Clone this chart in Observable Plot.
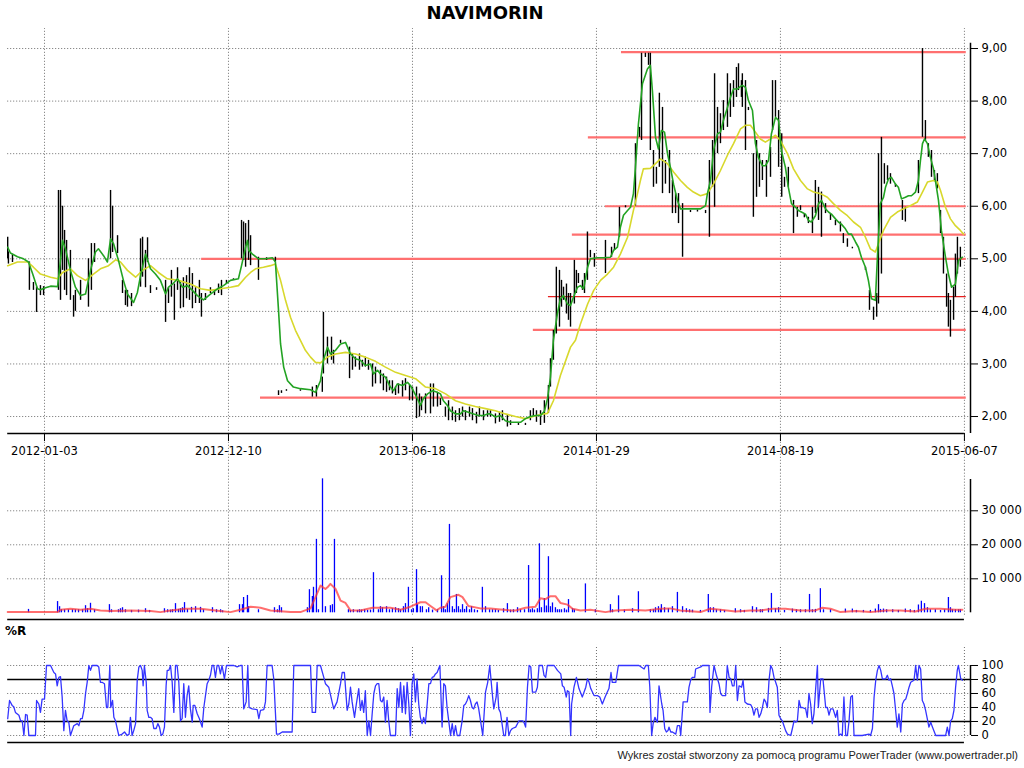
<!DOCTYPE html>
<html><head><meta charset="utf-8">
<script src="https://cdn.jsdelivr.net/npm/d3@7"></script>
<script src="https://cdn.jsdelivr.net/npm/@observablehq/plot@0.6"></script>
<style>
body{margin:0;background:#fff;}
#wrap{position:relative;width:1024px;height:768px;background:#fff;font-family:"DejaVu Sans",sans-serif;overflow:hidden;color:#000}
.abs{position:absolute}
#title{left:0;top:2px;width:970px;text-align:center;font-weight:bold;font-size:18px;line-height:22px}
#wrlab{left:5px;top:624px;font-weight:bold;font-size:12px;line-height:14px}
#cap{right:6px;top:749px;font-size:11px;line-height:13px;font-family:"Liberation Sans",Arial,sans-serif;color:#222}
#p1{left:0;top:20px}
#p2{left:0;top:470px}
#p3{left:0;top:640px}
</style></head>
<body><div id="wrap">
<div id="title" class="abs">NAVIMORIN</div>
<div id="p1" class="abs"></div>
<div id="p2" class="abs"></div>
<div id="wrlab" class="abs">%R</div>
<div id="p3" class="abs"></div>
<div id="cap" class="abs">Wykres został stworzony za pomocą programu PowerTrader (www.powertrader.pl)</div>
</div>
<script>
// ---------- DATA ----------
const tickIdx = [20,120,220,320,420,520];
const tickDates = ["2012-01-03","2012-12-10","2013-06-18","2014-01-29","2014-08-19","2015-06-07"];
const priceTicks = [2,3,4,5,6,7,8,9];
const volTicks = [10000,20000,30000];
const wrTicks = [0,20,40,60,80,100];
const wrDotted = [0,40,60,100];
const wrBands = [20,80];

// support / resistance levels [price, first session]
const levels = [[5.00,105.4],[2.36,137.4],[8.93,333.6],[7.31,315.6],[6.00,324.9],[5.46,306.9],[3.65,285.7]];
const levelsThin = [[4.28,293.9]];

// session high/low bars [session, high, low]
const priceBars = [
[0,5.41,5.0],[0.4,5.13,4.90],[2.6,5.08,4.93],[11.8,4.94,4.40],[14,4.55,4.40],[15.7,4.46,3.98],[17.8,4.49,4.30],[19.5,4.47,4.30],
[27.6,6.30,4.40],[28.7,6.30,4.21],[29.8,6.00,4.78],[30.9,5.54,4.40],[32,5.35,4.30],[34.1,5.16,4.21],[35.8,4.30,3.89],[36.8,4.40,4.0],
[39.6,4.59,4.21],[43.9,5.0,4.08],[45.5,5.29,4.40],[47.2,5.29,4.93],[55.9,6.30,5.0],[57,6.0,5.12],[59.7,5.44,5.10],[62.4,4.59,4.34],
[64,4.40,4.11],[65.1,4.40,4.08],[67.3,4.34,4.09],[72.2,5.38,4.46],[73.3,5.41,4.65],[74.9,5.16,4.45],[76,5.40,4.93],[77.6,4.49,4.34],
[80.9,4.45,4.40],[85.8,4.59,3.79],[87.4,4.45,4.15],[89,4.78,4.27],[90.6,4.52,3.83],[92.3,4.83,4.40],[93.9,4.55,4.05],[95.5,4.64,4.07],
[97.2,4.68,4.24],[98.8,4.83,4.21],[100.4,4.72,4.05],[102.1,4.45,4.15],[104.2,4.59,4.15],[105.3,4.34,3.89],[107.5,4.34,4.21],[110.2,4.45,4.34],
[112.4,4.40,4.30],[114.6,4.52,4.34],[116.2,4.59,4.30],[118.9,4.59,4.52],[122.7,4.62,4.59],[127.1,5.73,5.0],[128.2,5.70,4.97],[129.3,5.67,4.84],
[130.9,5.73,4.97],[132,5.44,4.87],[136.3,5.03,4.59],[140.7,5.02,4.97],[145.5,5.03,4.94],[147.2,2.49,2.40],[148.8,2.49,2.44],[151.5,2.51,2.48],
[159.1,2.51,2.48],[165.6,2.56,2.37],[167.8,2.59,2.37],[171,2.75,2.46],[171.6,3.98,2.81],[173.8,3.51,3.00],[176,3.51,3.07],[177.1,3.26,3.00],
[180.9,3.45,3.39],[185.8,3.32,2.72],[187.4,3.19,2.88],[189,3.13,2.94],[191.2,3.19,2.88],[192.8,3.07,2.94],[194.4,3.13,2.94],[196.1,3.07,2.88],
[198.3,3.00,2.56],[199.9,2.94,2.62],[202.6,2.88,2.62],[204.2,2.81,2.49],[205.9,2.75,2.46],[207.5,2.68,2.49],[209.1,2.68,2.43],[210.8,2.56,2.40],
[212.4,2.62,2.43],[214.6,2.68,2.37],[216.2,2.72,2.49],[218.4,2.59,2.30],[220,2.56,2.30],[222.2,2.56,1.96],[223.8,2.43,1.99],[224.9,2.37,2.11],
[227.1,2.43,2.05],[229.8,2.62,2.05],[231.4,2.62,2.18],[233.6,2.46,2.18],[235.2,2.34,2.21],[237.9,2.18,1.99],[239.6,2.30,1.92],[241.7,2.18,1.92],
[243.4,2.11,1.89],[245.5,2.15,1.92],[247.2,2.18,1.99],[248.8,2.11,1.92],[251,2.18,1.99],[252.6,2.15,1.92],[254.8,2.08,1.86],[256.4,2.18,1.99],
[258.6,2.11,1.92],[260.8,2.11,1.99],[262.4,2.11,1.99],[265.1,2.05,1.86],[267.3,2.08,1.89],[268.9,2.11,1.92],[271.6,2.02,1.80],[273.3,1.92,1.83],
[277.6,1.87,1.83],[281.4,1.87,1.83],[284.1,2.11,1.92],[285.7,2.15,1.99],[287.4,2.11,1.89],[289.6,2.11,1.83],[291.7,2.30,1.87],[293.9,2.59,2.06],
[295,3.10,2.56],[296.6,3.64,3.07],[298.2,4.84,3.57],[299.9,4.78,3.70],[301,4.59,4.08],[302.1,4.46,4.21],[303.7,4.52,3.95],[304.8,4.34,3.83],
[305.9,4.34,3.70],[308,4.97,4.14],[309.1,4.78,4.34],[310.2,4.72,4.53],[312.4,4.59,4.40],[313.5,4.72,4.34],[315.1,5.51,4.59],[316.7,5.16,5.02],
[318.9,5.10,4.84],[324.9,5.35,4.72],[328.2,5.22,5.03],[329.8,5.29,5.16],[332.5,5.98,5.41],[335.8,6.01,5.97],[341.2,7.19,6.0],[343.4,7.50,7.31],
[344.5,8.91,7.25],[346.6,8.91,8.83],[348.3,8.91,8.68],[349.3,8.91,7.06],[351,7.06,6.36],[352.6,6.74,6.42],[354.2,8.15,6.74],[355.9,7.88,6.24],
[357.5,6.87,6.42],[359.7,7.06,6.24],[361.3,6.49,5.86],[363,6.24,5.86],[364.6,6.24,5.67],[366.8,6.05,5.03],[371.1,5.92,5.88],[374.9,5.93,5.89],
[379.3,5.92,5.86],[381.4,6.87,5.41],[383.1,7.25,6.36],[384.2,8.52,5.98],[385.8,7.88,7.00],[387.4,7.76,7.19],[389,8.01,7.44],[391.2,8.52,7.50],
[392.8,8.33,7.69],[394.5,8.39,7.88],[396.1,8.64,8.07],[397.2,8.71,8.20],[398.8,8.39,8.07],[399.3,8.52,7.88],[401,8.39,7.06],[402.6,7.88,7.82],
[405.3,7.00,5.79],[407,7.25,6.17],[408.6,7.00,6.36],[410.2,6.87,6.49],[412.4,6.87,6.17],[414.6,7.12,6.55],[415.7,8.39,7.44],[417.3,8.39,7.69],
[419,7.82,6.74],[420.7,7.38,6.17],[422.2,6.55,6.36],[424.3,6.74,6.36],[427.1,6.11,5.48],[429.2,5.98,5.79],[430.9,6.01,5.92],[433,5.86,5.78],
[435.2,5.79,5.67],[437.4,5.98,5.48],[439,6.49,5.86],[440.7,6.36,5.73],[442.3,6.27,5.41],[444.5,6.05,5.86],[447.2,5.85,5.73],[449.9,5.73,5.63],
[452.6,5.70,5.51],[454.2,5.48,5.29],[456.4,5.38,5.22],[459.1,5.22,5.19],[466.2,4.84,4.78],[468.4,4.40,4.02],[470.6,4.08,3.83],[472.3,4.34,3.89],
[473.3,7.00,4.14],[474.9,7.31,4.71],[476.5,6.81,6.42],[478.2,6.77,6.49],[479.8,6.62,6.42],[482.5,6.42,6.36],[486.3,6.11,5.73],[487.9,5.98,5.70],
[495,6.87,6.24],[497.2,9.00,7.31],[498.8,7.63,7.25],[500.4,7.19,6.93],[502.1,7.06,6.55],[503.7,6.68,6.49],[505.3,6.62,6.33],[507,5.92,5.48],
[508.6,5.41,4.71],[510.3,4.71,4.08],[511.3,4.34,3.70],[512.4,4.21,3.51],[514.1,4.46,3.83],[515.1,5.09,4.27],[516.2,5.41,4.71],[517.8,5.22,4.84]
];

// short moving average (green) [session, price]
const greenMA = [
[0,5.22],[1.5,5.11],[5.3,5.04],[8.6,5.00],[11.3,4.94],[13.5,4.72],[16.2,4.43],[17.8,4.41],[20.5,4.45],[23.3,4.48],[27.1,4.47],[28.7,4.97],
[29.8,5.35],[31.4,5.19],[34.1,4.78],[36.8,4.46],[39.6,4.30],[42.3,4.33],[45,4.78],[47.7,5.13],[49.3,5.19],[52.1,5.06],[54.2,4.94],[55.9,5.38],
[57.5,5.29],[60.2,4.97],[62.9,4.59],[65.1,4.33],[68.4,4.17],[70.5,4.36],[72.2,4.68],[74.9,5.09],[77.6,4.81],[80.3,4.71],[83,4.59],[85.8,4.33],
[87.4,4.46],[89.6,4.52],[92.3,4.62],[95,4.46],[97.7,4.49],[100.4,4.40],[103.1,4.30],[106.4,4.22],[110.2,4.33],[114,4.43],[117.3,4.49],[121.1,4.59],
[125.4,4.62],[127.1,4.87],[129.3,5.22],[130.3,5.35],[131,5.16],[133,5.09],[136.3,5.00],[140.1,5.00],[143.9,5.02],[145.5,4.94],[147.2,4.02],[148.3,3.38],
[150,2.94],[152.1,2.68],[155.3,2.56],[159.1,2.53],[164.6,2.51],[167.3,2.46],[170,2.68],[171.6,3.07],[173.8,3.32],[175.4,3.19],[178.2,3.26],[180.9,3.38],
[183.6,3.41],[186.3,3.19],[189,3.10],[191.7,3.07],[194.4,2.97],[197.2,3.00],[198.8,2.81],[201,2.88],[202.6,2.81],[205.3,2.75],[208,2.56],[209.7,2.49],
[211.8,2.62],[214.6,2.59],[217.3,2.65],[218.9,2.59],[220.5,2.49],[222.7,2.34],[224.3,2.21],[225.9,2.34],[228.2,2.43],[230.9,2.49],[233.6,2.46],[235.2,2.43],
[236.8,2.30],[239,2.21],[240.6,2.11],[243.4,2.05],[246.1,2.05],[247.7,2.11],[250.4,2.08],[253.2,2.05],[255.9,2.02],[258.6,2.02],[260.8,2.05],[262.4,2.05],
[265.1,1.99],[267.8,2.02],[270.5,1.92],[273.3,1.89],[276,1.89],[278.7,1.89],[281.4,1.96],[284.1,2.00],[286.8,2.02],[289.6,2.02],[291.7,2.10],[293.4,2.34],
[295,2.75],[296.6,3.45],[298.8,3.96],[300.4,4.24],[302.1,4.30],[304.2,4.14],[305.9,4.11],[307.5,4.27],[309.7,4.46],[311.3,4.49],[313,4.43],[315.2,4.84],
[316.7,5.00],[320.5,5.02],[323.8,5.02],[327.6,5.03],[329.3,5.16],[331.4,5.22],[333,5.60],[334.7,5.83],[336.9,5.92],[338.5,5.98],[340.1,6.24],[341.2,6.74],
[342.8,7.56],[345,8.33],[347.7,8.61],[349.3,8.68],[350.4,8.20],[352.1,7.31],[353.7,7.09],[355.3,7.44],[357,7.41],[358.6,7.00],[360.2,6.74],[361.9,6.42],
[364,6.11],[365.7,5.95],[371.1,5.95],[376.5,5.95],[379.3,6.01],[380.3,6.24],[382,6.49],[383.6,7.06],[385.8,7.38],[387.4,7.41],[389,7.63],[391.2,7.88],
[392.8,8.07],[394.5,8.23],[396.6,8.23],[398.3,8.28],[399.3,8.30],[401,8.26],[402.6,8.01],[404.8,7.82],[406.4,7.19],[408,6.93],[410.2,6.77],[411.8,6.77],
[413.5,6.87],[415.1,7.38],[417.3,7.69],[419,7.63],[420.5,7.06],[422.7,6.74],[424.3,6.36],[426,6.05],[428.2,5.98],[429.8,5.92],[431.4,5.89],[433.6,5.85],
[435.2,5.73],[436.8,5.70],[439,5.82],[440.7,6.05],[442.3,6.11],[444.5,5.95],[446.1,5.89],[447.7,5.85],[449.9,5.76],[451.5,5.70],[453.1,5.66],[455.3,5.57],
[457,5.47],[458.6,5.47],[460.8,5.32],[462.4,5.22],[464,5.03],[466.2,4.84],[467.8,4.59],[469.5,4.24],[471.6,4.21],[472.7,5.03],[474.3,6.05],[476,6.17],
[477.1,6.36],[478.7,6.52],[480.3,6.55],[482.5,6.42],[484.1,6.36],[485.8,6.14],[487.9,6.17],[489.6,6.20],[491.2,6.20],[493.4,6.27],[495,6.49],[496.1,6.87],
[497.2,7.19],[498.3,7.28],[499.9,7.19],[501.5,6.93],[503.2,6.71],[504.2,6.49],[505.9,6.11],[507.5,5.54],[509.7,5.03],[511.3,4.71],[513,4.46],[515.1,4.52],
[516.8,4.97],[518.9,5.03]
];

// long moving average (yellow) [session, price]
const yellowMA = [
[0,4.87],[5.3,4.94],[10.8,4.94],[14,4.84],[17.8,4.71],[23.3,4.65],[27.1,4.62],[29.8,4.74],[34.1,4.81],[37.9,4.68],[42.3,4.59],[46.6,4.71],
[50.4,4.81],[54.8,4.87],[58.6,4.98],[61.3,4.94],[65.1,4.78],[69.5,4.65],[73.3,4.78],[77.6,4.87],[81.9,4.74],[86.8,4.62],[92.8,4.59],[99.3,4.52],
[104.8,4.43],[110.2,4.40],[115.7,4.43],[121.1,4.46],[125.4,4.49],[129.3,4.65],[132,4.74],[134.7,4.81],[139,4.84],[142.8,4.87],[145.5,4.90],[148.3,4.59],
[151,4.21],[153.7,3.89],[156.4,3.64],[159.1,3.45],[161.8,3.26],[164.6,3.13],[167.3,3.03],[170,3.02],[173.8,3.13],[178.2,3.19],[183.6,3.22],[189,3.19],
[194.4,3.13],[199.9,3.05],[205.3,2.94],[210.8,2.84],[216.2,2.78],[221.7,2.72],[227.1,2.56],[232.5,2.53],[238,2.43],[243.4,2.30],[248.8,2.24],[254.2,2.19],
[259.7,2.15],[265.1,2.11],[270.5,2.05],[276,2.00],[281.4,1.96],[285.7,2.00],[289.6,2.04],[293.4,2.06],[296.6,2.30],[300.4,2.78],[305.9,3.32],[308.6,3.45],
[311.3,3.76],[315.2,4.14],[318.5,4.40],[322.2,4.59],[326,4.71],[329.3,4.84],[333,5.09],[336.9,5.41],[340.1,5.92],[342.3,6.24],[343.9,6.49],[345.5,6.71],
[349.3,6.72],[352.1,6.81],[354.8,6.90],[358.6,6.81],[361.9,6.65],[365.7,6.49],[369.4,6.36],[372.7,6.27],[376.5,6.20],[380.3,6.24],[383.6,6.42],[387.4,6.68],
[391.2,6.97],[394.5,7.19],[398.3,7.47],[401,7.54],[403.7,7.54],[406.4,7.41],[409.1,7.28],[411.8,7.22],[414.5,7.28],[417.3,7.35],[420,7.25],[423.8,7.00],
[427.1,6.71],[430.9,6.49],[434.7,6.33],[438,6.27],[441.7,6.24],[445.5,6.17],[448.8,6.05],[452.6,5.92],[456.4,5.82],[459.7,5.70],[463.5,5.60],[466.2,5.41],
[468.9,5.19],[471.6,5.13],[473.3,5.29],[476,5.54],[479.8,5.79],[483.5,5.89],[486.8,5.95],[490.6,6.01],[494.4,6.08],[497.2,6.27],[499.9,6.46],[503.2,6.49],
[505.3,6.46],[507,6.30],[509.7,5.98],[512.4,5.76],[515.1,5.63],[517.8,5.54],[519.5,5.47]
];

// volume per session [session, volume]
const volBars = [
[11.3,1000],[27.1,3300],[28.2,1800],[29.2,900],[30.9,900],[33,900],[35.2,900],[36.8,900],[38.5,900],[40.7,900],[42.3,2100],[43.4,1200],
[45,2800],[47.2,900],[55.3,2400],[56.4,900],[60.2,900],[61.3,1200],[62.4,1500],[64,900],[67.3,700],[71.1,800],[74.9,1200],[77.1,700],
[85.2,1200],[86.9,900],[88.5,800],[89.6,900],[91.2,2700],[92.8,1000],[93.9,1200],[95,1500],[96.1,3000],[97.7,1000],[99.9,1600],[102.1,1800],
[104.8,1600],[106.4,900],[111.3,1500],[113.5,900],[115.7,900],[116.8,600],[126,2400],[127.6,2400],[128.2,4500],[130.3,5100],[130.9,1800],[136.3,900],
[145,1500],[146.6,900],[147.7,2100],[148.8,1500],[162.9,1500],[164,6800],[165.6,4800],[166.2,7500],[167.8,21600],[168.9,900],[171.1,39400],[172.7,1800],
[175.4,2100],[176.5,2400],[177.6,21600],[185.2,900],[186.3,700],[187.9,900],[190.1,700],[191.2,900],[192.3,800],[194,900],[195.6,700],[197.2,800],
[198.8,11800],[201.5,900],[202.6,1800],[203.7,1500],[205.9,1800],[207.5,900],[209.1,1200],[210.8,1500],[212.4,1200],[213.5,900],[215.1,1800],[216.2,2700],
[217.8,7500],[219.5,900],[220.5,1200],[222.2,12700],[222.7,2400],[224.3,1800],[225.4,1800],[227.6,900],[228.8,1500],[230.9,800],[233.6,900],[235.8,10900],
[236.9,1800],[237.9,900],[239,2700],[240.1,26000],[241.7,1800],[242.8,1000],[243.9,5400],[245,1800],[246.1,900],[247.2,2400],[248.3,1000],[249.4,1800],
[251,900],[252.1,1800],[253.7,900],[255.3,700],[258,7500],[259.7,1800],[261.9,900],[263.5,900],[265.1,900],[266.7,700],[269.5,1200],[271.6,2700],
[273.3,800],[274.9,900],[277.1,1500],[278.7,900],[280.9,900],[283.1,13900],[284.1,900],[285.2,1200],[286.3,800],[287.9,1200],[289,20300],[290.1,1500],
[291.7,4200],[292.8,2000],[293.9,16500],[295,1800],[296.1,2900],[297.7,1500],[298.8,900],[299.9,900],[301,900],[302.6,1200],[303.7,800],[304.8,3900],
[307,1200],[308,900],[314,8500],[319.4,900],[327.6,2400],[328.7,900],[332,5000],[335.2,800],[339.6,1200],[342.8,6200],[349.3,900],[351,900],
[352.1,1500],[353.7,1800],[354.8,1000],[355.3,2400],[357,1500],[359.1,1200],[361.3,1800],[364,6000],[366.8,1800],[368.9,1200],[370.6,900],[372.2,800],
[376.5,700],[380.8,5400],[381.9,1500],[383.6,1500],[385.2,900],[387.4,900],[389.6,700],[395.5,1200],[398.3,900],[400.4,700],[404.8,1800],[407,1500],
[409.1,900],[410.2,900],[413.5,1300],[415.1,5700],[417.3,1200],[419,1500],[422.2,700],[426.5,1100],[428.7,900],[430.9,900],[433.6,900],[435.8,5400],
[437.4,900],[439,1000],[441.7,7100],[443.4,900],[447.2,900],[455.3,1100],[459.1,1100],[461.3,700],[465.1,700],[468.9,700],[471.6,1100],[473.3,2400],
[474.4,1000],[476,1100],[477.7,900],[481,900],[484.1,700],[487.9,1100],[490.6,900],[492.8,700],[495,2300],[496.6,3400],[498.3,2700],[499.9,1500],
[501.5,900],[504.2,900],[507,700],[509.2,900],[511.3,4500],[512.4,1500],[513.5,900],[515.1,900],[516.8,900],[517.8,900]
];

// volume moving average (red) [session, volume]
const volMA = [
[0,200],[27.1,200],[28.7,900],[34.1,1200],[39.6,900],[45,1200],[50.4,700],[55.9,500],[66.7,700],[77.6,500],[83,200],[88.5,700],
[96.6,1200],[104.8,1200],[112.9,700],[121.1,200],[126.5,900],[132,1800],[137.4,1500],[142.8,700],[153.7,200],[159.1,200],[164.6,1300],[167.3,4600],
[170,8000],[172.7,7000],[173.8,7500],[175.4,8500],[178.2,7000],[180.9,3600],[183.6,2900],[186.3,700],[191.7,700],[198.3,1500],[208,1500],[213.5,900],
[218.9,1800],[224.3,3100],[227.1,3100],[229.8,2000],[233.1,700],[235.2,1500],[237.9,1800],[240.6,4600],[245,5300],[247.2,4600],[250.4,2000],[256.9,1300],
[262.4,1300],[267.8,1000],[273.3,700],[276,700],[281.4,1500],[286.8,1800],[289.6,4300],[292.3,4000],[295,4900],[297.7,4900],[300.4,2900],[304.3,2400],
[307,1200],[311.3,700],[316.7,900],[324.9,200],[330.3,700],[338.5,900],[346.6,700],[354.8,1200],[360.2,1300],[365.7,700],[376.5,200],[381.9,1200],
[387.4,900],[395.5,400],[403.7,700],[409.1,700],[415.7,1200],[422.7,1200],[430.9,700],[439,700],[442.8,1500],[447.2,1200],[452.6,200],[460.8,500],
[468.9,200],[477.1,700],[485.2,700],[493.4,400],[498.8,1200],[507,1200],[515.1,900],[518.9,900]
];

// Williams %R [session, value]
const willR = [
[0,24],[1,50],[2.4,43],[3.3,41],[4.2,33],[6.1,29],[7,21],[7.9,21],[8.8,0],[9.7,30],[10.6,29],[11.5,0],[13.3,0],[15.1,0],[15.7,50],[16.9,45],
[17.8,33],[18.7,52],[20,52],[21.1,100],[23.3,100],[25.1,90],[26,88],[26.9,71],[27.8,83],[28.7,84],[29.6,55],[30.5,7],[31.4,36],[32.3,21],[33.2,19],
[34.1,0],[35.9,14],[37.8,17],[38.7,14],[39.6,24],[40.5,24],[41.4,36],[42.3,60],[43.2,76],[44.1,100],[45,93],[45.9,100],[48.6,100],[49.5,98],[50.4,76],
[51.3,76],[52.6,74],[53.7,40],[54.4,40],[55.1,76],[55.5,100],[56,40],[57,50],[57.7,26],[58.6,21],[59.5,10],[60.4,0],[62.2,2],[63.5,5],[64.9,0],
[66,2],[66.7,26],[67.6,0],[68.5,7],[69.5,17],[70.4,79],[71.3,98],[72.2,100],[73.1,93],[73.6,71],[74.3,100],[75.3,76],[75.8,36],[76.7,26],[77.6,26],
[78.5,24],[79.4,10],[80.7,10],[81.6,17],[82.5,12],[83.4,0],[84.3,2],[85.2,12],[86.1,71],[86.7,93],[87.6,93],[88.5,100],[89.4,76],[90.3,33],[91.2,100],
[92.1,100],[93,76],[93.9,21],[94.8,24],[95.7,74],[96.6,26],[97.5,57],[98.4,71],[99.3,38],[100.3,19],[100.8,43],[101.7,43],[103,31],[104.2,24],[105.7,12],
[106.6,40],[108.4,74],[109.3,79],[110.2,86],[111.1,100],[112,100],[112.9,83],[113.8,100],[114.7,100],[115.6,88],[116.5,100],[117.8,81],[118.9,100],[122.9,100],
[124.7,98],[126.5,100],[127.4,100],[128.3,38],[129.6,48],[130.5,100],[131.2,40],[132.9,38],[135.6,37],[136.5,24],[137.4,36],[139.2,37],[140.1,48],[141,100],
[143.7,100],[144.6,81],[146.1,2],[147.4,2],[149.2,5],[151.9,5],[154.6,5],[155.5,100],[159.1,100],[164.6,100],[165.5,33],[167.3,33],[168.2,100],[170,100],
[171.8,83],[172.7,74],[174.5,69],[176.3,48],[177.2,38],[179,48],[180.9,74],[181.8,90],[183,90],[184.5,36],[185.4,45],[186.3,69],[187.2,48],[188.5,26],
[189.5,45],[190.8,67],[191.7,36],[192.6,50],[193.5,33],[194.4,64],[195.4,0],[196.3,21],[197.2,0],[198.1,31],[199,60],[199.9,71],[200.8,74],[201.7,74],
[202.6,50],[203.5,48],[204.4,55],[205.3,19],[206.2,50],[207.1,21],[208,0],[210.8,0],[211.7,67],[212.6,40],[213.5,76],[214.4,33],[215.3,71],[216.2,31],
[217.1,76],[218,45],[218.9,0],[219.8,74],[220.7,88],[221.6,48],[222.5,81],[223.4,45],[224.3,26],[225.2,17],[226.1,26],[227,17],[228,45],[228.9,74],
[229.8,74],[230.7,83],[231.6,84],[232.5,88],[233.4,90],[234.9,100],[236.1,12],[237,74],[237.9,71],[238.8,40],[239.7,21],[240.7,0],[241.6,17],[242.5,0],
[243.4,14],[244.3,0],[245.7,0],[247,21],[247.9,43],[248.8,45],[249.7,50],[250.6,57],[251.5,50],[252.4,40],[253.3,38],[254.2,45],[255.1,48],[256,38],
[257,21],[258.2,0],[259.7,62],[260.9,76],[262,100],[263.3,62],[264.2,38],[265.5,55],[266,76],[266.9,38],[267.8,33],[269.6,0],[270.5,0],[271.4,26],
[272.4,0],[273.3,7],[274.3,10],[276.1,12],[277.9,21],[279.7,21],[280.6,19],[281.5,12],[282.5,69],[283.4,100],[284.3,98],[285.2,62],[287,62],[287.9,69],
[288.8,100],[290.6,100],[291.5,86],[292.4,83],[293.3,100],[297,100],[298.8,93],[300.6,88],[301.5,71],[302.4,69],[303.6,55],[304.2,64],[305.1,62],[306,0],
[306.5,45],[307.8,69],[309.1,83],[310.5,67],[312.3,55],[314.2,69],[315.1,81],[316,76],[316.9,67],[318.7,57],[320.5,57],[321.8,55],[323.2,45],[324.7,55],
[325.9,62],[326.8,67],[327.9,90],[328.6,76],[330.5,76],[331.9,100],[334.1,100],[339.5,100],[343.1,100],[345.9,95],[346.8,100],[348.2,100],[349,69],[350,0],
[350.8,17],[351.8,26],[352.6,21],[353.1,19],[354,71],[355.5,45],[356.2,36],[357.1,10],[358,5],[358.9,7],[359.4,12],[360.4,5],[361.3,5],[363.1,2],
[364,14],[365.2,14],[365.8,0],[367.1,48],[369.4,48],[370.3,69],[371.2,79],[372.1,83],[373.4,83],[373.9,95],[376.7,98],[377.6,100],[381.2,100],[381.7,33],
[382.6,69],[383.9,100],[385.2,86],[386.6,74],[387.5,60],[388.4,57],[390.2,57],[391.1,100],[392.1,83],[393,81],[393.9,71],[394.8,71],[395.7,100],[396.6,50],
[397.5,71],[398.9,69],[399.7,79],[400.7,48],[402,45],[403.8,44],[404.7,40],[405.6,29],[406.5,38],[407.5,38],[408.4,26],[409.3,31],[410.2,40],[411.1,52],
[412,48],[412.9,40],[413.8,79],[414.7,100],[415.6,95],[416.5,83],[417.4,76],[418.3,69],[419.2,29],[420.1,24],[421,21],[421.9,14],[422.8,7],[423.8,2],
[425.6,0],[426.5,10],[427.4,21],[428.3,19],[429.2,21],[430.1,50],[431,40],[431.9,40],[433.7,38],[434.6,26],[435.5,60],[436.4,45],[437.3,17],[438.2,31],
[439.2,69],[440.1,100],[440.6,40],[441.9,81],[443.1,81],[444.6,40],[445.5,40],[446.4,29],[447.3,38],[448.6,38],[450,26],[450.9,36],[451.8,0],[452.7,2],
[453.6,0],[454.5,55],[455.5,0],[456.4,0],[457.3,21],[458.2,55],[459.1,57],[460,0],[461.8,0],[464.5,0],[468.1,2],[469,0],[470,10],[470.9,55],
[471.8,79],[472.7,93],[473.6,100],[474.5,93],[475.4,81],[477.2,81],[478.1,86],[479,79],[479.9,81],[480.8,71],[481.7,60],[482.6,36],[483.5,12],[484.4,31],
[485.4,5],[486.3,45],[487.2,50],[488.1,52],[489,60],[489.9,69],[490.8,76],[492.6,79],[493.5,100],[494.4,79],[495.3,100],[496.2,95],[497.1,50],[498,45],
[498.9,36],[499.8,24],[500.7,12],[501.7,19],[502.6,12],[504.4,0],[509.8,0],[510.7,12],[511.6,0],[512.5,21],[513.4,24],[514.3,36],[515.2,69],[516.1,93],
[516.7,100],[517.4,90],[518,81],[518.9,79]
];

// ---------- LAYOUT ----------
const W = 1024, ML = 7.2, MR = 54;
const xEnd = 523.3;          // session position of the right axis
const lastTick = tickIdx[tickIdx.length - 1];
const priceDom = [1.677, 9.381];
const volDom = [-1970, 41850];
const wrDom = [-10, 135.7];
const dotted = {stroke: "#6e6e6e", strokeDasharray: "1,2", strokeWidth: 1};
const style = {fontFamily: '"DejaVu Sans", sans-serif', fontSize: "11.5px", color: "#000", background: "transparent", overflow: "visible"};
const fx = d => d[0], fy = d => d[1];
const comma2 = d => d.toFixed(2).replace(".", ",");
const spaceThousands = d => d3.format(",")(d).replace(/,/g, " ");

const price = Plot.plot({
  width: W, height: 450, marginLeft: ML, marginRight: MR, marginTop: 8, marginBottom: 37,
  style,
  x: {domain: [0, xEnd], label: null},
  y: {domain: priceDom, label: null},
  marks: [
    Plot.ruleY(priceTicks, dotted),
    Plot.ruleX(tickIdx, {y1: priceDom[0] - 0.7, y2: priceDom[1], ...dotted}),
    Plot.ruleY(levels, {y: d => d[0], x1: d => d[1], x2: lastTick + 1, stroke: "#ff7070", strokeWidth: 2.2}),
    Plot.ruleY(levelsThin, {y: d => d[0], x1: d => d[1], x2: lastTick + 1, stroke: "#e52020", strokeWidth: 1.2}),
    Plot.ruleX(priceBars, {x: d => d[0], y1: d => d[2], y2: d => d[1], stroke: "#000", strokeWidth: 1.4}),
    Plot.line(yellowMA, {x: fx, y: fy, stroke: "#d8d82c", strokeWidth: 1.6}),
    Plot.line(greenMA, {x: fx, y: fy, stroke: "#23a323", strokeWidth: 1.6}),
    Plot.ruleY([priceDom[0]], {x1: 0, x2: lastTick, stroke: "#000", strokeWidth: 1.5}),
    Plot.ruleX([xEnd], {y1: priceDom[0], y2: 9.1, stroke: "#000", strokeWidth: 1.5}),
    Plot.axisX({ticks: tickIdx, tickFormat: d => tickDates[tickIdx.indexOf(d)], tickSize: 8, tickPadding: 5, label: null}),
    Plot.axisY({anchor: "right", ticks: priceTicks, tickFormat: comma2, tickSize: 7, tickPadding: 4, label: null})
  ]
});
document.getElementById("p1").append(price);

const vol = Plot.plot({
  width: W, height: 155, marginLeft: ML, marginRight: MR, marginTop: 0, marginBottom: 6,
  style,
  x: {domain: [0, xEnd], axis: null},
  y: {domain: volDom, label: null},
  marks: [
    Plot.ruleY(volTicks, dotted),
    Plot.ruleX(tickIdx, {y1: -700, y2: volDom[1], ...dotted}),
    Plot.ruleX(volBars, {x: fx, y1: 0, y2: fy, stroke: "#0000ff", strokeWidth: 1.3}),
    Plot.line(volMA, {x: fx, y: fy, stroke: "#ff3030", strokeWidth: 2, strokeOpacity: 0.7}),
    Plot.ruleY([volDom[0]], {x1: 0, x2: lastTick, stroke: "#000", strokeWidth: 1.5}),
    Plot.ruleX([xEnd], {y1: 0, y2: 39200, stroke: "#000", strokeWidth: 1.5}),
    Plot.axisY({anchor: "right", ticks: volTicks, tickFormat: spaceThousands, tickSize: 7, tickPadding: 4, label: null})
  ]
});
document.getElementById("p2").append(vol);

const wr = Plot.plot({
  width: W, height: 105, marginLeft: ML, marginRight: MR, marginTop: 0, marginBottom: 3,
  style,
  x: {domain: [0, xEnd], axis: null},
  y: {domain: wrDom, label: null},
  marks: [
    Plot.ruleY(wrDotted, dotted),
    Plot.ruleX(tickIdx, {y1: -4.3, y2: 128.6, ...dotted}),
    Plot.ruleY(wrBands, {stroke: "#000", strokeWidth: 1.5}),
    Plot.line(willR, {x: fx, y: fy, stroke: "#3434ff", strokeWidth: 1.3}),
    Plot.ruleY([wrDom[0]], {x1: 0, x2: lastTick, stroke: "#000", strokeWidth: 1.5}),
    Plot.ruleX([xEnd], {y1: 0, y2: 100, stroke: "#000", strokeWidth: 1.5}),
    Plot.axisY({anchor: "right", ticks: wrTicks, tickSize: 7, tickPadding: 4, label: null})
  ]
});
document.getElementById("p3").append(wr);
</script>
</body></html>
